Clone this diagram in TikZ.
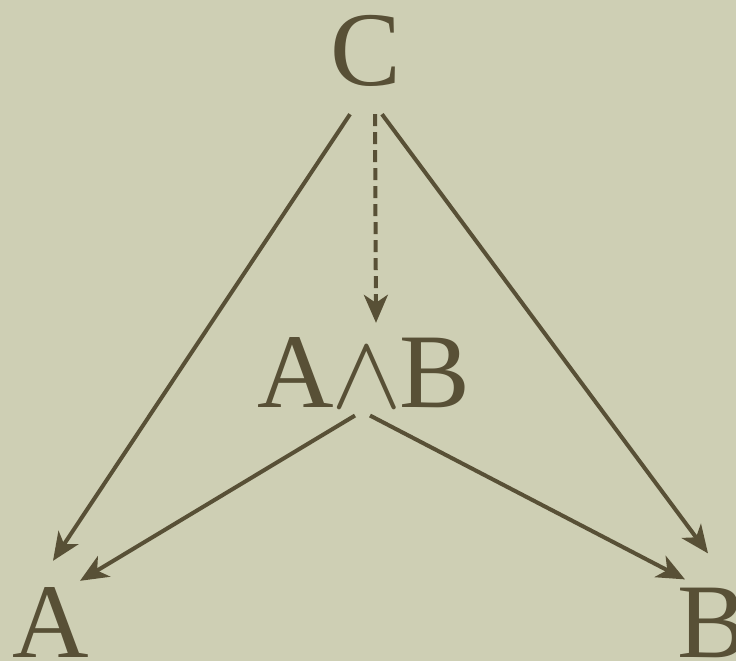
\RequirePackage{fix-cm}
\documentclass[tikz,border=0pt]{standalone}
\usepackage{fontspec}
\setmainfont{Liberation Serif}
\usepackage{tikz}
\usetikzlibrary{arrows.meta}
\definecolor{paper}{RGB}{206,207,180}
\definecolor{ink}{RGB}{88,80,54}

\begin{document}
\begin{tikzpicture}[
  x=1pt, y=-1pt,
  obj/.style={inner sep=0pt, anchor=base, text=ink, font=\fontsize{106}{106}\selectfont},
  arr/.style={draw=ink, line width=4pt, -{Stealth[length=28pt,width=24pt,inset=8pt]}},
  dasharr/.style={arr, dash pattern=on 12pt off 6pt}
]
\fill[paper] (0,0) rectangle (736,661);
\useasboundingbox (0,0) rectangle (736,661);
% objects
\node[obj] (C) at (366,85) {C};
\node[obj] (AB) at (364,407) {A$\mkern-0.5mu\wedge\mkern-0.5mu$B};
\node[obj] (A) at (51,657) {A};
\node[obj] (B) at (713,657) {B};
% morphisms
\draw[arr] ([xshift=-16pt,yshift=-28pt]C.south) -- ([xshift=2pt,yshift=26pt]A.north);
\draw[arr] ([xshift=16pt,yshift=-28pt]C.south) -- ([xshift=-5pt,yshift=34pt]B.north);
\draw[dasharr] ([xshift=9pt,yshift=-28pt]C.south) -- ([xshift=12pt,yshift=14pt]AB.north);
\draw[arr] ([xshift=-9pt,yshift=-8pt]AB.south) -- ([xshift=29pt,yshift=6pt]A.north);
\draw[arr] ([xshift=6pt,yshift=-8pt]AB.south) -- ([xshift=-28pt,yshift=8pt]B.north);
\end{tikzpicture}
\end{document}
